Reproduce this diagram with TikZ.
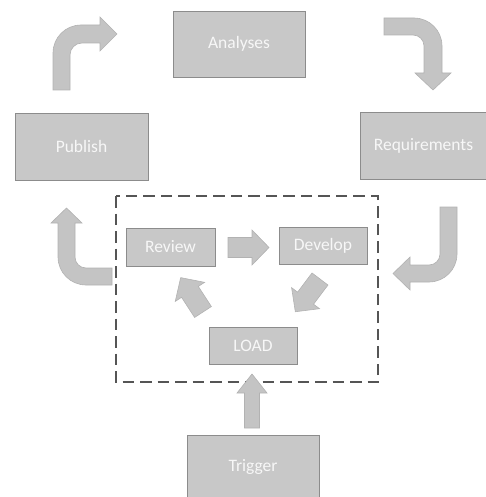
\documentclass[tikz,border=0pt]{standalone}
\usepackage{fontspec}
\setmainfont{Carlito}

\definecolor{boxgrey}{HTML}{C8C8C8}
\definecolor{edgegrey}{HTML}{8C8C8C}
\definecolor{arrowgrey}{HTML}{C4C4C4}
\definecolor{arrowedge}{HTML}{B2B2B2}
\definecolor{frame}{HTML}{555555}

% straight block arrow: tail, angle, length, shaft half width, head half width, head length
\newcommand{\fatarrow}[6]{%
	\path[arrowshape,shift={#1},rotate=#2]
		(0,-#4) -- (#3-#6,-#4) -- (#3-#6,-#5) -- (#3,0)
		-- (#3-#6,#5) -- (#3-#6,#4) -- (0,#4) -- cycle;}

\begin{document}
\begin{tikzpicture}[
			x=1pt, y=-1pt,
			box/.style={draw=edgegrey, fill=boxgrey, text=white!97!black,
				font=\fontsize{17.5}{20}\selectfont, inner sep=0pt},
			bigbox/.style={box, minimum width=132, minimum height=66},
			smallbox/.style={box, minimum width=88, minimum height=37},
			arrowshape/.style={fill=arrowgrey, draw=arrowedge, line width=0.6pt}
		]
		\useasboundingbox (0,0) rectangle (486,497);

		% outer cycle
		\node[bigbox] (analyses) at (239,44) {Analyses};
		\node[bigbox, minimum width=133, minimum height=67] (publish) at (81.5,146.5) {Publish};
		\node[bigbox, minimum width=127, minimum height=67] (reqs) at (423.5,145.5) {Requirements};
		\node[bigbox, minimum height=64] (trigger) at (253,467) {Trigger};

		% inner loop
		\draw[frame, line width=2.4pt, dash pattern=on 11.5pt off 6pt] (116,196) rectangle (378,382);
		\node[smallbox, minimum width=89, minimum height=38] (review) at (170.5,247) {Review};
		\node[smallbox] (develop) at (323,245.5) {Develop};
		\node[smallbox] (load) at (253,345.5) {LOAD};

		% bent arrows round the outside
		\path[arrowshape] (53,90) -- (53,53) arc[start angle=180, end angle=270, radius=28]
			-- (100,25) -- (100,17) -- (117,34) -- (100,51) -- (100,43) -- (82,43)
			arc[start angle=270, end angle=180, radius=12] -- (70,90) -- cycle;
		\path[arrowshape] (384,18) -- (414,18) arc[start angle=270, end angle=360, radius=28]
			-- (442,73) -- (451,73) -- (433,90) -- (415,73) -- (424,73) -- (424,46)
			arc[start angle=0, end angle=-90, radius=11] -- (384,35) -- cycle;
		\path[arrowshape] (440,207) -- (457,207) -- (457,254) arc[start angle=0, end angle=90, radius=28]
			-- (410,282) -- (410,290) -- (393,273.5) -- (410,257) -- (410,265) -- (429,265)
			arc[start angle=90, end angle=0, radius=11] -- cycle;
		\path[arrowshape] (112,268) -- (112,285) -- (86,285) arc[start angle=90, end angle=180, radius=28]
			-- (58,223) -- (51,223) -- (66.5,208) -- (82,223) -- (75,223) -- (75,257)
			arc[start angle=180, end angle=90, radius=11] -- cycle;

		% straight arrows
		\fatarrow{(228,247.5)}{0}{41}{10}{17.5}{17}
		\fatarrow{(320,279)}{233}{41}{10}{17.5}{17}
		\fatarrow{(203,312)}{123}{41}{10}{17.5}{17}
		\fatarrow{(252,428)}{90}{54}{7.5}{15}{19}
	\end{tikzpicture}
\end{document}
